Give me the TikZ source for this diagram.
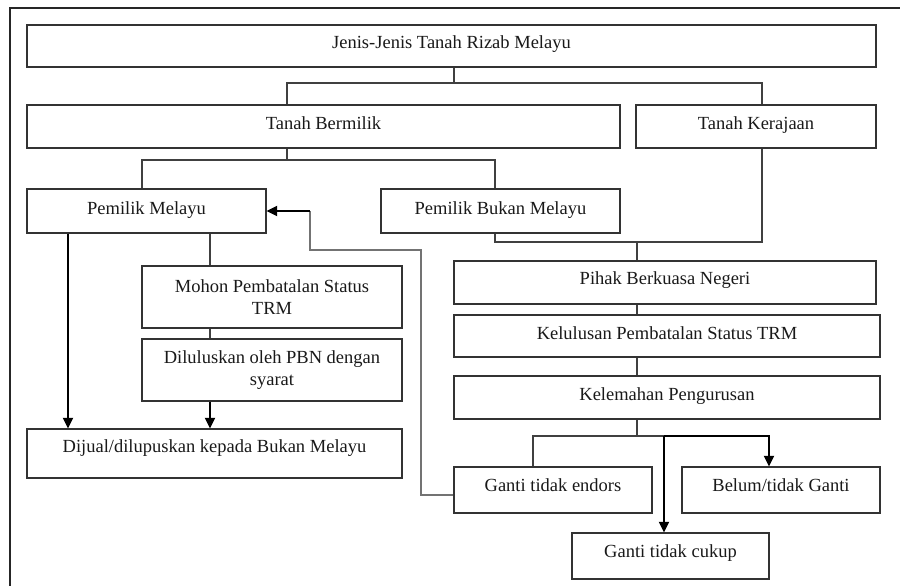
\documentclass[tikz,border=0pt]{standalone}
\usepackage{fontspec}
\setmainfont{Liberation Serif}
\usetikzlibrary{arrows.meta}
\begin{document}
\begin{tikzpicture}[x=1pt,y=-1pt,
  box/.style={draw=black!80, line width=1.2pt, inner sep=0pt, align=center,
    font=\fontsize{18.5}{21.5}\selectfont, text=black!90},
  one/.style={text height=13pt, text depth=7pt},
  conn/.style={draw=black!75, line width=1.3pt},
  arr/.style={draw=black, line width=1.8pt, -{Triangle[length=10.5pt,width=10pt]}},
  back/.style={draw=black!55, line width=1.3pt},
  frame/.style={draw=black!85, line width=2pt}]
\useasboundingbox (0,0) rectangle (900,586);
\draw[frame] (10,586) -- (10,8) -- (900,8);

\node[box, one, minimum width=849pt, minimum height=42pt] (jenis) at (451.5,46) {Jenis-Jenis Tanah Rizab Melayu};
\node[box, one, minimum width=593pt, minimum height=43pt] (tb) at (323.5,126.5) {Tanah Bermilik};
\node[box, one, minimum width=240pt, minimum height=43pt] (tk) at (756,126.5) {Tanah Kerajaan};
\node[box, one, minimum width=239pt, minimum height=44pt] (pm) at (146.5,211) {Pemilik Melayu};
\node[box, one, minimum width=239pt, minimum height=44pt] (pbm) at (500.5,211) {Pemilik Bukan Melayu};
\node[box, minimum width=260pt, minimum height=62pt] (mohon) at (272,297) {Mohon Pembatalan Status\\TRM};
\node[box, minimum width=260pt, minimum height=62pt] (dilulus) at (272,370) {Diluluskan oleh PBN dengan\\syarat};
\node[box, one, text depth=15.3pt, minimum width=375pt, minimum height=49pt] (dijual) at (214.5,453.5) {Dijual/dilupuskan kepada Bukan Melayu};
\node[box, one, text depth=9.5pt, minimum width=422pt, minimum height=43pt] (pihak) at (665,282.5) {Pihak Berkuasa Negeri};
\node[box, one, minimum width=426pt, minimum height=42pt] (kelulusan) at (667,336) {Kelulusan Pembatalan Status TRM};
\node[box, one, text depth=8pt, minimum width=426pt, minimum height=43pt] (kelemahan) at (667,397.5) {Kelemahan Pengurusan};
\node[box, one, text depth=11pt, minimum width=198pt, minimum height=46pt] (endors) at (553,490) {Ganti tidak endors};
\node[box, one, text depth=11pt, minimum width=198pt, minimum height=46pt] (belum) at (781,490) {Belum/tidak Ganti};
\node[box, one, text depth=10.3pt, minimum width=197pt, minimum height=46pt] (cukup) at (670.5,556) {Ganti tidak cukup};

% junction coordinates
\coordinate (j1) at (454,83);
\coordinate (j2) at (287,83);
\coordinate (j3) at (762,83);
\coordinate (b1) at (287,160);
\coordinate (b2) at (142,160);
\coordinate (b3) at (495,160);
\coordinate (k1) at (762,242);
\coordinate (k2) at (495,242);
\coordinate (k3) at (637,242);
\coordinate (m1) at (637,436);
\coordinate (m2) at (533,436);
\coordinate (m3) at (664,436);
\coordinate (m4) at (769,436);
\coordinate (r1) at (421,495);
\coordinate (r2) at (421,250);
\coordinate (r3) at (310,250);
\coordinate (r4) at (310,211);
\coordinate (p1) at (68,0);
\coordinate (p2) at (210,0);

\draw[conn] (jenis.south -| j1) -- (j1);
\draw[conn] (tb.north -| j2) -- (j2) -- (j3) -- (tk.north -| j3);
\draw[conn] (tb.south -| b1) -- (b1);
\draw[conn] (pm.north -| b2) -- (b2) -- (b3) -- (pbm.north -| b3);
\draw[conn] (tk.south -| k1) -- (k1) -- (k2) -- (pbm.south -| k2);
\draw[conn] (k3) -- (pihak.north -| k3);
\draw[conn] (pihak.south -| k3) -- (kelulusan.north -| k3);
\draw[conn] (kelulusan.south -| k3) -- (kelemahan.north -| k3);
\draw[conn] (kelemahan.south -| m1) -- (m1);
\draw[conn] (endors.north -| m2) -- (m2) -- (m3);
\draw[arr] (m3) -- (m4) -- (belum.north -| m4);
\draw[arr] (m3) -- (cukup.north -| m3);
\draw[back] (endors.west |- r1) -- (r1) -- (r2) -- (r3) -- (r4);
\draw[arr] (r4) -- (pm.east);

\draw[arr] (pm.south -| p1) -- (dijual.north -| p1);
\draw[conn] (pm.south -| p2) -- (mohon.north -| p2);
\draw[conn] (mohon.south -| p2) -- (dilulus.north -| p2);
\draw[arr] (dilulus.south -| p2) -- (dijual.north -| p2);
\end{tikzpicture}
\end{document}
